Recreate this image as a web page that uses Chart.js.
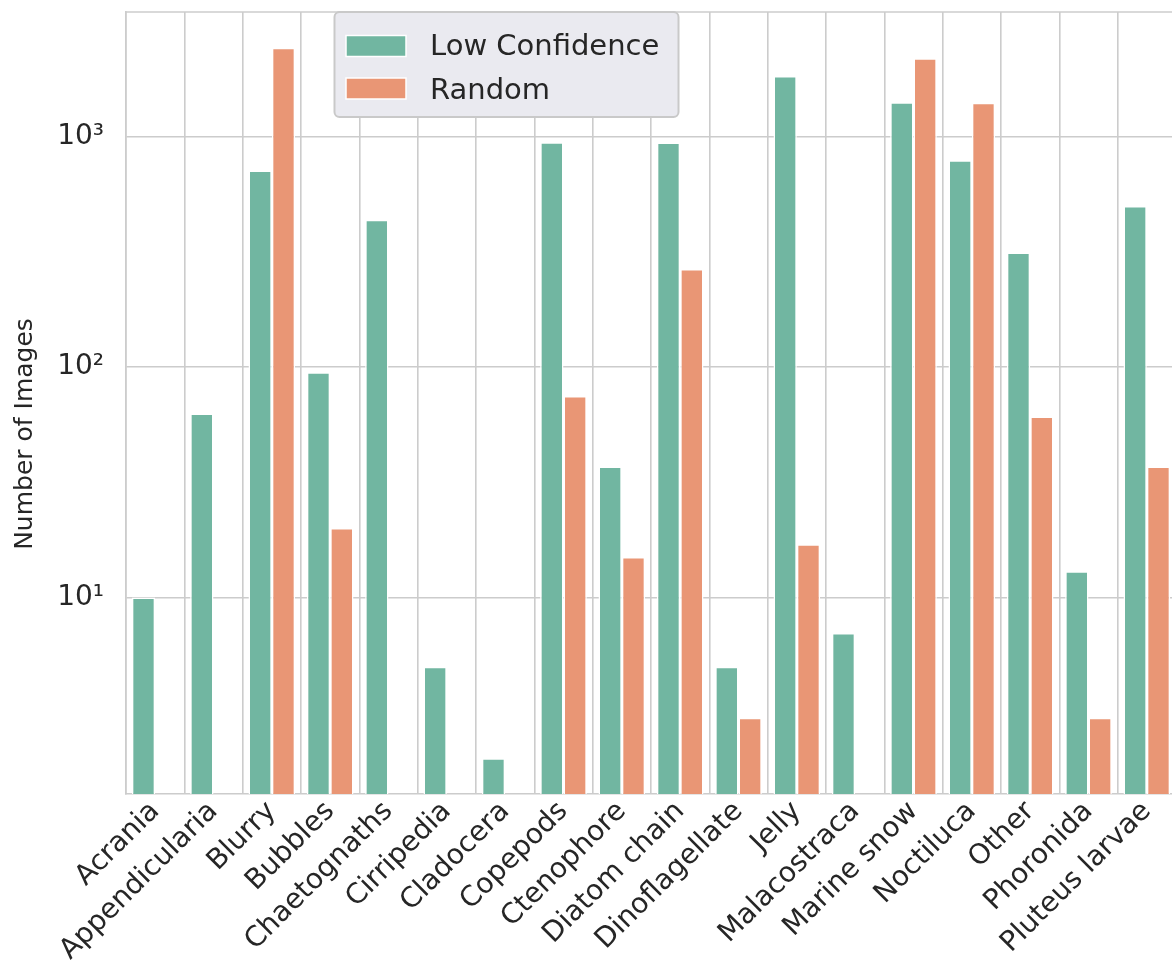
<!DOCTYPE html>
<html>
<head>
<meta charset="utf-8">
<title>Number of Images per class</title>
<script src="https://cdn.jsdelivr.net/npm/chart.js@4/dist/chart.umd.min.js"></script>
<style>
  html, body { margin: 0; padding: 0; overflow: hidden; background: #ffffff; }
  #wrap { width: 1176px; height: 965px; }
</style>
</head>
<body>
<div id="wrap"><canvas id="chart" width="1176" height="965"></canvas></div>
<script>
// Image counts per plankton class for the two selection strategies
const categories = [
  'Acrania', 'Appendicularia', 'Blurry', 'Bubbles', 'Chaetognaths', 'Cirripedia',
  'Cladocera', 'Copepods', 'Ctenophore', 'Diatom chain', 'Dinoflagellate', 'Jelly',
  'Malacostraca', 'Marine snow', 'Noctiluca', 'Other', 'Phoronida', 'Pluteus larvae'
];
const seriesNames = ['Low Confidence', 'Random'];
const lowConfidence = [10, 63, 715, 95, 437, 5, 2, 949, 37, 946, 5, 1841, 7, 1416, 793, 315, 13, 502];
const randomPick = [null, null, 2438, 20, null, null, null, 75, 15, 267, 3, 17, null, 2198, 1409, 61, 3, 37];
const yTickValues = [10, 100, 1000];
const yTickLabels = ['10¹', '10²', '10³'];
const yAxisTitle = 'Number of Images';

const GREEN = '#71b6a1';
const ORANGE = '#e99675';
const GRID = '#cccccc';
const TEXT = '#262626';
const FONT = '"DejaVu Sans", "Liberation Sans", sans-serif';

// top spine of the axes frame
const topSpine = {
  id: 'topSpine',
  beforeDatasetsDraw(chart) {
    const { ctx, chartArea } = chart;
    ctx.save();
    ctx.strokeStyle = GRID;
    ctx.lineWidth = 1.6;
    ctx.beginPath();
    ctx.moveTo(chartArea.left, chartArea.top);
    ctx.lineTo(chartArea.right, chartArea.top);
    ctx.stroke();
    ctx.restore();
  }
};

// vertical axis title, written bottom-to-top at the left edge
const yTitle = {
  id: 'yTitle',
  afterDraw(chart) {
    const ctx = chart.ctx;
    ctx.save();
    ctx.translate(25, 434);
    ctx.rotate(-Math.PI / 2);
    ctx.fillStyle = TEXT;
    ctx.font = '25px ' + FONT;
    ctx.textAlign = 'center';
    ctx.textBaseline = 'middle';
    ctx.fillText(yAxisTitle, 0, 0);
    ctx.restore();
  }
};

// framed legend drawn inside the plot area
const boxLegend = {
  id: 'boxLegend',
  afterDraw(chart) {
    const ctx = chart.ctx;
    ctx.save();
    ctx.beginPath();
    ctx.roundRect(334.5, 12, 344, 105, 5);
    ctx.fillStyle = '#eaeaf0';
    ctx.fill();
    ctx.lineWidth = 2;
    ctx.strokeStyle = '#c9c9c9';
    ctx.stroke();
    chart.data.datasets.forEach((ds, i) => {
      const sy = 35.5 + i * 42.5;
      ctx.fillStyle = ds.backgroundColor;
      ctx.fillRect(346, sy, 60, 21);
      ctx.strokeStyle = '#ffffff';
      ctx.lineWidth = 1.5;
      ctx.strokeRect(346, sy, 60, 21);
      ctx.fillStyle = TEXT;
      ctx.font = '29px ' + FONT;
      ctx.textBaseline = 'alphabetic';
      ctx.textAlign = 'left';
      ctx.fillText(ds.label, 430, 55 + i * 44);
    });
    ctx.restore();
  }
};

const zeroPad = (scale) => {
  scale.paddingTop = 0;
  scale.paddingBottom = 0;
  scale.paddingLeft = 0;
  scale.paddingRight = 0;
};

new Chart(document.getElementById('chart'), {
  type: 'bar',
  data: {
    labels: categories,
    datasets: [
      {
        label: seriesNames[0],
        data: lowConfidence,
        backgroundColor: GREEN,
        borderColor: '#ffffff',
        borderWidth: 1.5
      },
      {
        label: seriesNames[1],
        data: randomPick,
        backgroundColor: ORANGE,
        borderColor: '#ffffff',
        borderWidth: 1.5
      }
    ]
  },
  options: {
    responsive: false,
    animation: false,
    devicePixelRatio: 1,
    layout: { padding: { top: 12, left: 0, right: 0, bottom: 0 } },
    datasets: {
      bar: { categoryPercentage: 0.8, barPercentage: 1.0 }
    },
    plugins: {
      legend: { display: false },
      tooltip: { enabled: false }
    },
    scales: {
      x: {
        type: 'category',
        offset: true,
        grid: { display: true, offset: true, color: GRID, lineWidth: 1.6, drawTicks: false },
        border: { display: true, color: GRID, width: 1.6 },
        ticks: {
          autoSkip: false,
          maxRotation: 45,
          minRotation: 45,
          padding: 1,
          color: TEXT,
          font: { family: FONT, size: 28 }
        },
        afterFit(scale) {
          scale.height = 171;
          zeroPad(scale);
        }
      },
      y: {
        type: 'logarithmic',
        min: 1.4,
        max: 3490,
        grid: { display: true, color: GRID, lineWidth: 1.6, drawTicks: false },
        border: { display: true, color: GRID, width: 1.6 },
        afterBuildTicks(scale) {
          scale.ticks = yTickValues.map(v => ({ value: v }));
        },
        ticks: {
          padding: 22,
          color: TEXT,
          font: { family: FONT, size: 28 },
          callback(value) {
            const i = yTickValues.indexOf(value);
            return i >= 0 ? yTickLabels[i] : '';
          }
        },
        title: { display: false },
        afterFit(scale) {
          scale.width = 126;
          zeroPad(scale);
        }
      }
    }
  },
  plugins: [topSpine, yTitle, boxLegend]
});
</script>
</body>
</html>
